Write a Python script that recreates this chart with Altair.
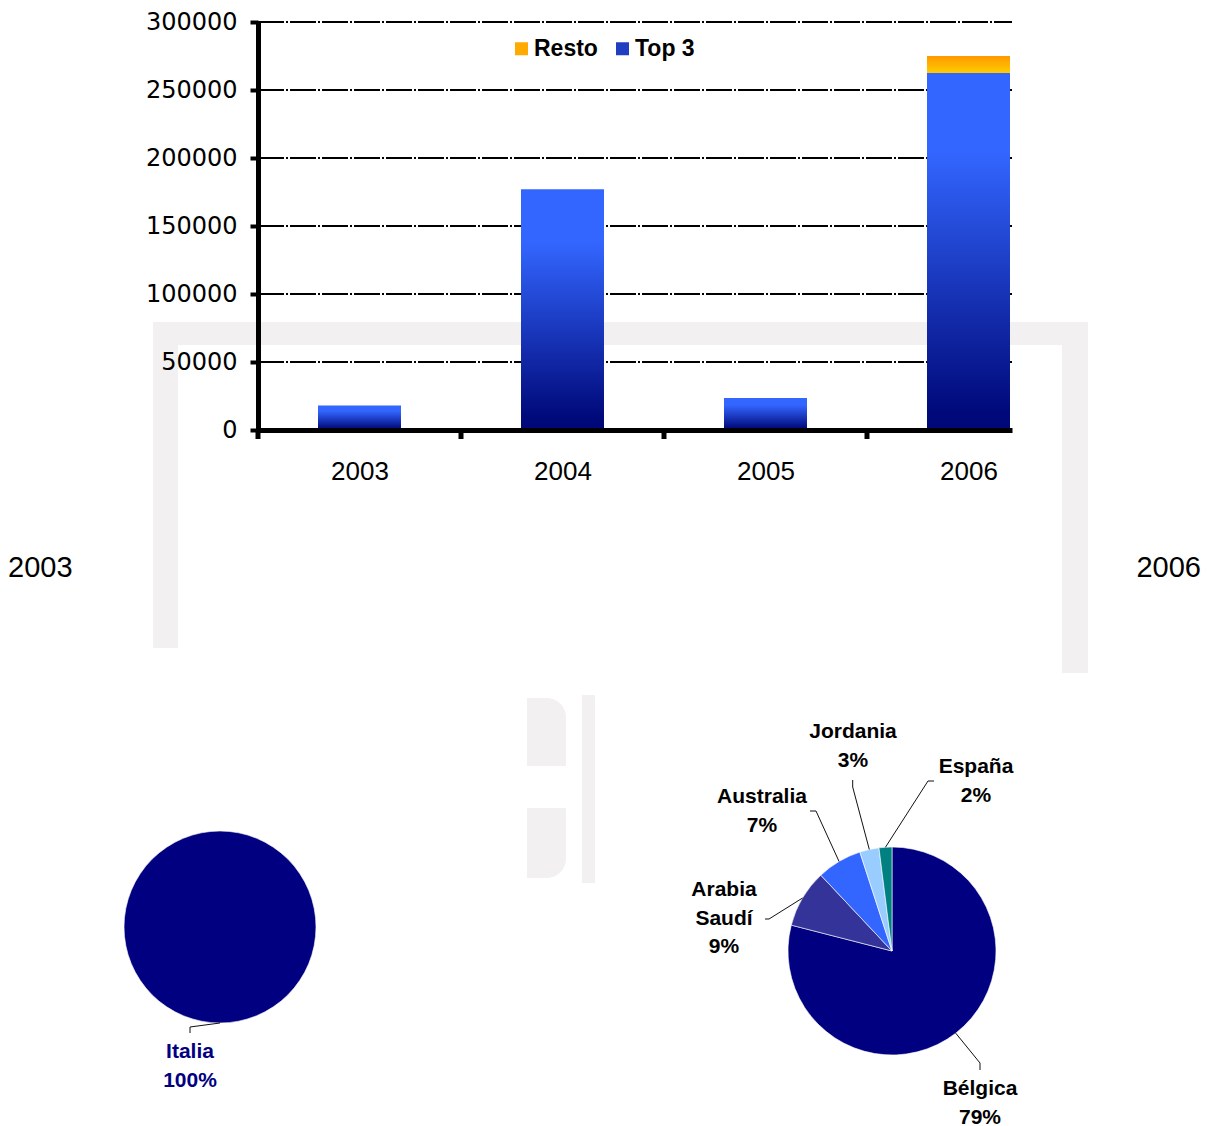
import math
import altair as alt
import pandas as pd

# ---------------- data ----------------
anios = [2003, 2004, 2005, 2006]
top3 = [18000, 177000, 23500, 262500]
resto = [0, 0, 0, 12500]
series = ["Resto", "Top 3"]
y_ticks = [0, 50000, 100000, 150000, 200000, 250000, 300000]

paises_2003 = ["Italia"]
pct_2003 = [100]
colores_2003 = ["#000080"]

paises_2006 = ["Bélgica", "Arabia Saudí", "Australia", "Jordania", "España"]
pct_2006 = [79, 9, 7, 3, 2]
colores_2006 = ["#000080", "#333399", "#3366FF", "#99CCFF", "#008080"]

# ---------------- layout (pixels, relative to plot origin) ----------------
W, H = 754, 408
X_DOMAIN = [2002.5, 2006.2143]
PIE_2003 = dict(cx=-38, cy=905, r=96)
PIE_2006 = dict(cx=634, cy=929, r=104)
# first-line centre of each label and leader elbow points (label side first)
LABEL_LAYOUT = {
    "Italia": ((-68, 1030), [(-68, 1011), (-68, 1005)]),
    "Bélgica": ((722, 1067), [(722, 1048), (722, 1041)]),
    "Arabia Saudí": ((466, 868), [(507, 897), (511, 897)]),
    "Australia": ((504, 775), [(552, 789), (558, 789)]),
    "Jordania": ((595, 710), [(594.7, 758), (594.7, 765)]),
    "España": ((718, 745), [(676, 759), (670, 759)]),
}
FRAME = [
    (-105, 830, 300, 323),
    (-105, -80, 300, 626),
    (804, 830, 300, 651),
    (324, 337, 673, 861),
]
FRAME_COLOR = "#F2F0F0"

# ---------------- tables ----------------
bars_df = pd.DataFrame({"anio": anios, "top3": top3, "resto": resto})
bars_df["total"] = bars_df["top3"] + bars_df["resto"]
bounds_df = pd.DataFrame({"b": [a - 0.5 for a in anios]})
grid_df = pd.DataFrame({"v": y_ticks[1:]})
legend_df = pd.DataFrame({"serie": series})
one = pd.DataFrame({"a": [0]})


def pie_table(paises, pcts):
    return pd.DataFrame({"pais": paises, "pct": pcts, "orden": list(range(len(paises)))})


def leader_points(paises, pcts, pie):
    out = []
    total = sum(pcts)
    cum = 0
    for p, v in zip(paises, pcts):
        mid = (cum + v / 2) / total
        cum += v
        th = 2 * math.pi * mid
        ex = pie["cx"] + pie["r"] * math.sin(th)
        ey = pie["cy"] - pie["r"] * math.cos(th)
        out.append(LABEL_LAYOUT[p][1] + [(ex, ey)])
    return out


# ---------------- bar chart ----------------
xscale = alt.Scale(domain=X_DOMAIN, nice=False, zero=False, padding=0)
yscale = alt.Scale(domain=[y_ticks[0], y_ticks[-1]], nice=False, padding=0)

top3_grad = {
    "gradient": "linear", "x1": 0, "y1": 0, "x2": 0, "y2": 1,
    "stops": [
        {"offset": 0, "color": "#3366FF"},
        {"offset": 0.22, "color": "#3366FF"},
        {"offset": 0.95, "color": "#00097A"},
        {"offset": 1, "color": "#000878"},
    ],
}
resto_grad = {
    "gradient": "linear", "x1": 0, "y1": 0, "x2": 0, "y2": 1,
    "stops": [{"offset": 0, "color": "#FF9900"}, {"offset": 1, "color": "#FFCC00"}],
}

bars_top = alt.Chart(bars_df).mark_bar(orient="vertical", size=83, color=top3_grad).encode(
    x=alt.X("anio:Q", scale=xscale, axis=alt.Axis(
        values=anios, format="d", title=None, grid=False, domainColor="black", domainWidth=5,
        ticks=False, labelFont="Liberation Sans", labelFontSize=26,
        labelColor="black", labelPadding=28, labelFlush=False, zindex=1)),
    y=alt.Y("top3:Q", scale=yscale, axis=alt.Axis(
        values=y_ticks, format="d", title=None, grid=False, domainColor="black", domainWidth=5,
        tickColor="black", tickWidth=4, tickSize=8, labelFont="DejaVu Sans", labelFontSize=24,
        labelColor="black", labelPadding=13, zindex=1)),
)

grid = alt.Chart(grid_df).mark_rule(color="black", strokeWidth=2, strokeDash=[26, 2, 2, 2]).encode(
    y=alt.Y("v:Q", scale=yscale, title=None), x=alt.value(0), x2=alt.value(W)
)

bars_resto = alt.Chart(bars_df).transform_filter("datum.resto > 0").mark_bar(
    orient="vertical", size=83, color=resto_grad
).encode(
    x=alt.X("anio:Q", scale=xscale, title=None),
    y=alt.Y("total:Q", scale=yscale, title=None),
    y2="top3:Q",
)

xticks = alt.Chart(bounds_df).mark_rule(color="black", strokeWidth=5).encode(
    x=alt.X("b:Q", scale=xscale, title=None), y=alt.value(H), y2=alt.value(H + 9)
)

legend_layer = alt.Chart(legend_df).transform_filter("false").mark_square(opacity=1).encode(
    color=alt.Color("serie:N", scale=alt.Scale(domain=series, range=["#FFAA00", "#1F3FC0"]),
                    legend=alt.Legend(orient="none", legendX=252, legendY=15, direction="horizontal",
                                      title=None, symbolType="square", symbolSize=169,
                                      symbolOpacity=1, symbolStrokeWidth=0, labelFont="Liberation Sans",
                                      labelFontSize=23, labelFontWeight="bold", labelColor="black",
                                      columnPadding=13, labelOffset=1, padding=0))
)

# ---------------- decorations ----------------
deco = []
for (x1, x2, y1, y2) in FRAME:
    deco.append(alt.Chart(one).mark_rect(color=FRAME_COLOR).encode(
        x=alt.value(x1), x2=alt.value(x2), y=alt.value(y1), y2=alt.value(y2)))
deco.append(alt.Chart(one).mark_rect(color=FRAME_COLOR, cornerRadiusTopRight=39).encode(
    x=alt.value(269), x2=alt.value(308), y=alt.value(676), y2=alt.value(744)))
deco.append(alt.Chart(one).mark_rect(color=FRAME_COLOR, cornerRadiusBottomRight=39).encode(
    x=alt.value(269), x2=alt.value(308), y=alt.value(786), y2=alt.value(856)))


# ---------------- pies ----------------
def pie(paises, pcts, colores, p):
    return alt.Chart(pie_table(paises, pcts)).mark_arc(radius=p["r"], stroke="white", strokeWidth=0.6).encode(
        theta=alt.Theta("pct:Q", stack=True),
        color=alt.Color("pais:N", scale=alt.Scale(domain=paises, range=colores), legend=None),
        order=alt.Order("orden:Q"),
        x=alt.value(p["cx"]), y=alt.value(p["cy"]),
    )


pie03 = pie(paises_2003, pct_2003, colores_2003, PIE_2003)
pie06 = pie(paises_2006, pct_2006, colores_2006, PIE_2006)

annot = []
for pts in leader_points(paises_2003, pct_2003, PIE_2003) + leader_points(paises_2006, pct_2006, PIE_2006):
    for (ax, ay), (bx, by) in zip(pts[:-1], pts[1:]):
        annot.append(alt.Chart(one).mark_rule(color="#111111", strokeWidth=1).encode(
            x=alt.value(ax), y=alt.value(ay), x2=alt.value(bx), y2=alt.value(by)))


def label_layers(paises, pcts, color):
    out = []
    for p, v in zip(paises, pcts):
        (lx, ly), _ = LABEL_LAYOUT[p]
        lines = p.split(" ") + [f"{v}%"]
        out.append(alt.Chart(pd.DataFrame({"t": ["\n".join(lines)]})).mark_text(
            font="Liberation Sans", fontSize=21, fontWeight="bold", lineBreak="\n", lineHeight=28.5,
            align="center", baseline="middle", color=color,
        ).encode(text="t:N", x=alt.value(lx), y=alt.value(ly)))
    return out


annot += label_layers(paises_2003, pct_2003, "#000080")
annot += label_layers(paises_2006, pct_2006, "#000000")

annot.append(alt.Chart(pd.DataFrame({"t": [str(anios[0])]})).mark_text(
    font="Liberation Sans", fontSize=29, align="left", baseline="middle", color="black"
).encode(text="t:N", x=alt.value(-250), y=alt.value(546)))
annot.append(alt.Chart(pd.DataFrame({"t": [str(anios[-1])]})).mark_text(
    font="Liberation Sans", fontSize=29, align="right", baseline="middle", color="black"
).encode(text="t:N", x=alt.value(943), y=alt.value(546)))

chart = alt.layer(
    *deco, grid, bars_top, bars_resto, xticks, legend_layer, pie03, pie06, *annot,
).resolve_scale(
    color="independent", theta="independent"
).properties(
    width=W, height=H, autosize="none", background="white",
    padding={"left": 250, "top": 14, "right": 190, "bottom": 696},
).configure_view(stroke=None)

chart.save("out.html", embed_options={"renderer": "svg", "actions": False})
